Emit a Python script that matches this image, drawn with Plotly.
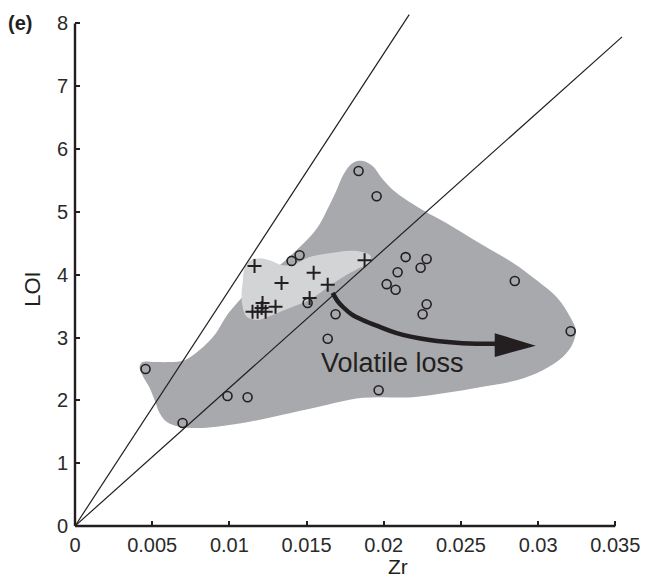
import plotly.graph_objects as go

# ---- data ----
circle_x = [0.00457, 0.00697, 0.00988, 0.01118, 0.01403, 0.01455, 0.01507, 0.01688,
            0.01637, 0.01837, 0.01954, 0.02142, 0.02278, 0.02239, 0.02090, 0.02019,
            0.02077, 0.02849, 0.02278, 0.02252, 0.03211, 0.01967]
circle_y = [2.50, 1.64, 2.07, 2.05, 4.22, 4.31, 3.55, 3.37,
            2.98, 5.65, 5.25, 4.28, 4.25, 4.11, 4.04, 3.85,
            3.76, 3.90, 3.53, 3.37, 3.10, 2.16]

plus_x = [0.01163, 0.01338, 0.01546, 0.01637, 0.01876, 0.01520, 0.01299, 0.01215,
          0.01150, 0.01183, 0.01209, 0.01235]
plus_y = [4.14, 3.87, 4.03, 3.84, 4.23, 3.63, 3.49, 3.55,
          3.41, 3.41, 3.47, 3.41]

dark_x = [0.00418, 0.00437, 0.00515, 0.00612, 0.00710, 0.00807, 0.00904, 0.01001,
          0.01170, 0.01364, 0.01559, 0.01649, 0.01695, 0.01740, 0.01799, 0.01863,
          0.01928, 0.01993, 0.02084, 0.02252, 0.02408, 0.02622, 0.02836, 0.02991,
          0.03121, 0.03205, 0.03244, 0.03224, 0.03160, 0.03030, 0.02861, 0.02622,
          0.02408, 0.02187, 0.01863, 0.01565, 0.01345, 0.01131, 0.00917, 0.00787,
          0.00677, 0.00593, 0.00548, 0.00515, 0.00483, 0.00437]
dark_y = [2.53, 2.61, 2.61, 2.61, 2.64, 2.80, 3.04, 3.41,
          3.85, 4.23, 4.71, 5.11, 5.35, 5.60, 5.78, 5.81,
          5.73, 5.52, 5.30, 5.03, 4.82, 4.50, 4.19, 3.91,
          3.64, 3.34, 3.12, 2.90, 2.69, 2.48, 2.32, 2.21,
          2.12, 2.05, 2.04, 1.89, 1.77, 1.66, 1.58, 1.56,
          1.58, 1.66, 1.80, 2.01, 2.20, 2.40]

light_x = [0.01086, 0.01099, 0.01131, 0.01183, 0.01261, 0.01345, 0.01423, 0.01520,
           0.01649, 0.01779, 0.01863, 0.01915, 0.01909, 0.01844, 0.01747, 0.01649,
           0.01520, 0.01371, 0.01261, 0.01176, 0.01112, 0.01086, 0.01079]
light_y = [3.87, 4.11, 4.22, 4.26, 4.23, 4.15, 4.17, 4.28,
           4.34, 4.38, 4.36, 4.30, 4.20, 4.11, 3.98, 3.82,
           3.60, 3.45, 3.34, 3.28, 3.33, 3.49, 3.68]

ref_slopes = [376.0, 219.7]
ref_x_end = [0.02165, 0.03544]

arrow_x = [0.01669, 0.01701, 0.01734, 0.01792, 0.01863, 0.01974, 0.02084, 0.02298,
           0.02511, 0.02751]
arrow_y = [3.71, 3.58, 3.49, 3.37, 3.28, 3.17, 3.07, 2.96, 2.91, 2.90]
head_x = [0.02719, 0.02985, 0.02719]
head_y = [3.07, 2.87, 2.69]

x_ticks = [0, 0.005, 0.01, 0.015, 0.02, 0.025, 0.03, 0.035]
x_ticklabels = ["0", "0.005", "0.01", "0.015", "0.02", "0.025", "0.03", "0.035"]
y_ticks = [0, 1, 2, 3, 4, 5, 6, 7, 8]
y_ticklabels = [str(v) for v in y_ticks]

DARK = "#a7a9ac"
LIGHT = "#d3d4d6"
INK = "#231f20"
FONT = "Liberation Sans, Arial, sans-serif"

fig = go.Figure()
fig.add_trace(go.Scatter(x=dark_x + dark_x[:1], y=dark_y + dark_y[:1], fill="toself",
                         fillcolor=DARK, mode="lines", line=dict(width=0, color=DARK),
                         line_shape="spline", hoverinfo="skip"))
fig.add_trace(go.Scatter(x=light_x + light_x[:1], y=light_y + light_y[:1], fill="toself",
                         fillcolor=LIGHT, mode="lines", line=dict(width=0, color=LIGHT),
                         line_shape="spline", hoverinfo="skip"))
for s, xe in zip(ref_slopes, ref_x_end):
    fig.add_trace(go.Scatter(x=[0, xe], y=[0, s * xe], mode="lines",
                             line=dict(color=INK, width=1.2), hoverinfo="skip"))
fig.add_trace(go.Scatter(x=plus_x, y=plus_y, mode="markers",
                         marker=dict(symbol="cross-thin-open", size=10, color=INK,
                                     line=dict(color=INK, width=2))))
fig.add_trace(go.Scatter(x=circle_x, y=circle_y, mode="markers",
                         marker=dict(symbol="circle-open", size=9, color=INK,
                                     line=dict(color=INK, width=1.6))))
fig.add_trace(go.Scatter(x=arrow_x, y=arrow_y, mode="lines", line_shape="spline",
                         line=dict(color=INK, width=4.5), hoverinfo="skip"))
fig.add_trace(go.Scatter(x=head_x + head_x[:1], y=head_y + head_y[:1], fill="toself",
                         fillcolor=INK, mode="lines", line=dict(width=0, color=INK),
                         hoverinfo="skip"))

# axis lines limited to the labelled extent
fig.add_shape(type="line", xref="x", yref="paper", x0=x_ticks[0], x1=x_ticks[-1],
              y0=0, y1=0, line=dict(color=INK, width=2.4), layer="above")
fig.add_shape(type="line", xref="paper", yref="y", x0=0, x1=0,
              y0=y_ticks[0], y1=y_ticks[-1], line=dict(color=INK, width=2.4), layer="above")

ann = dict(showarrow=False, xanchor="center", yanchor="middle")
fig.add_annotation(x=0.02058, y=2.60, xref="x", yref="y", text="Volatile loss",
                   font=dict(size=27, color=INK, family=FONT), **ann)
fig.add_annotation(x=0.589, y=-0.080, xref="paper", yref="paper", text="Zr",
                   font=dict(size=21, color=INK, family=FONT), **ann)
fig.add_annotation(x=-0.077, y=0.463, xref="paper", yref="paper", text="LOI",
                   textangle=-90, font=dict(size=22, color=INK, family=FONT), **ann)
fig.add_annotation(x=-0.100, y=0.982, xref="paper", yref="paper", text="<b>(e)</b>",
                   font=dict(size=20, color=INK, family=FONT), **ann)

fig.update_layout(
    width=646, height=579,
    margin=dict(l=75, r=23, t=14, b=53, autoexpand=False),
    paper_bgcolor="white", plot_bgcolor="white",
    showlegend=False,
    font=dict(family=FONT, size=20, color="#2a2a2a"),
    xaxis=dict(range=[0, 0.0355], tickmode="array", tickvals=x_ticks, ticktext=x_ticklabels,
               ticks="inside", ticklen=5, tickwidth=1.5, tickcolor=INK,
               ticklabelstandoff=5, automargin=False,
               showgrid=False, zeroline=False, showline=False),
    yaxis=dict(range=[0, 8.15], tickmode="array", tickvals=y_ticks, ticktext=y_ticklabels,
               ticks="inside", ticklen=5, tickwidth=1.5, tickcolor=INK,
               ticklabelstandoff=6, automargin=False,
               showgrid=False, zeroline=False, showline=False),
)

fig.write_html("out.html", config={"displayModeBar": False},
               post_script="document.body.style.margin='0';document.body.style.overflow='hidden';")
